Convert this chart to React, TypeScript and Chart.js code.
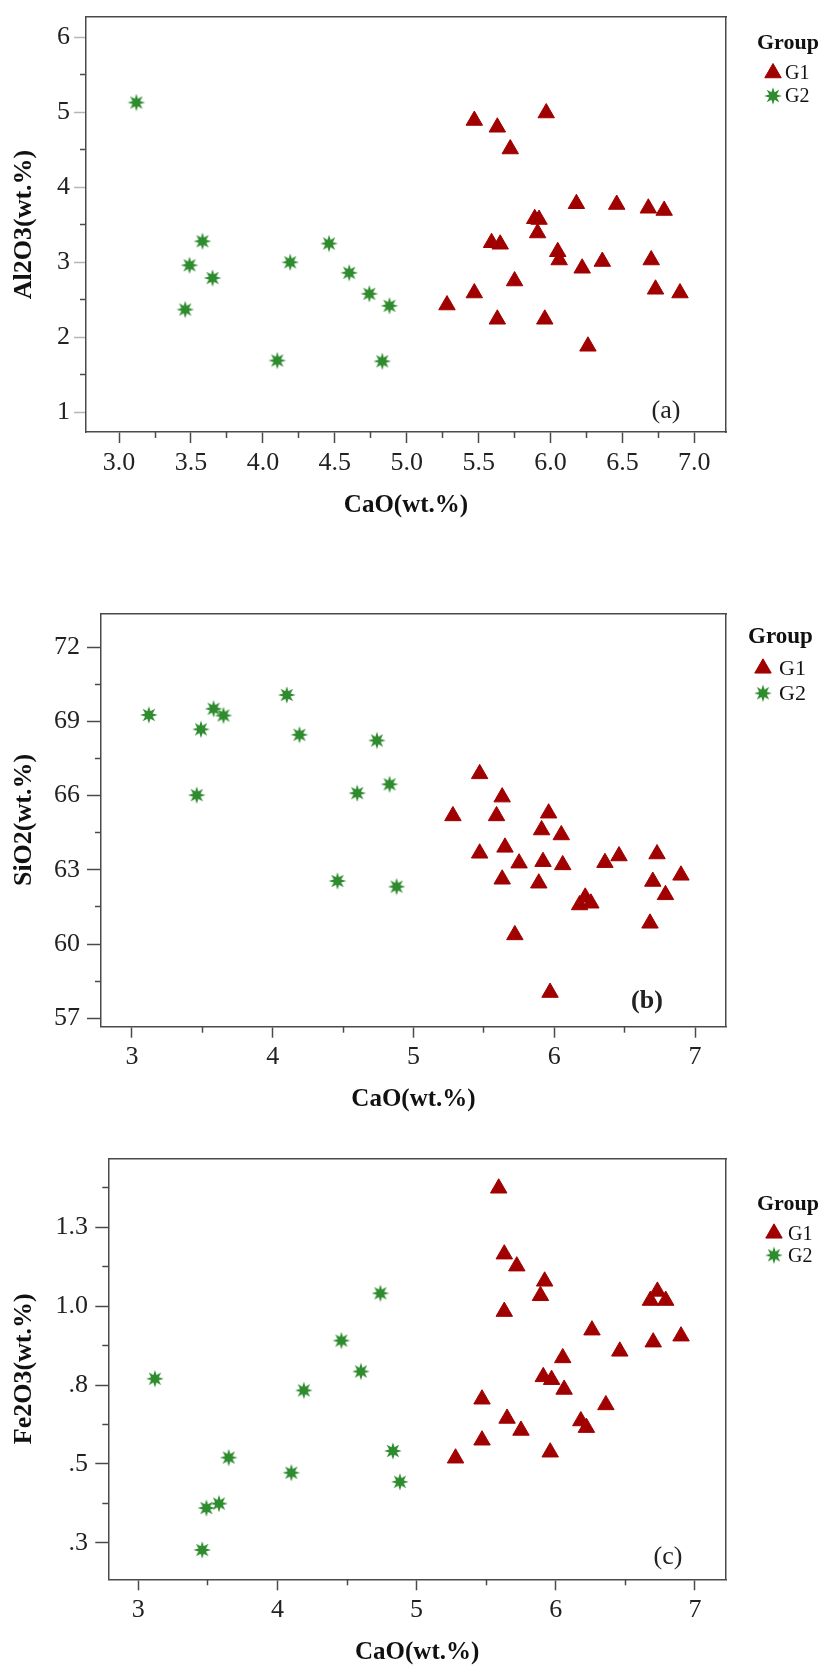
import React, { useEffect, useRef } from 'react';
import { Chart, registerables } from 'chart.js';
import { drawPoint } from 'chart.js/helpers';

Chart.register(...registerables);

// CaO is shared by the three panels (same samples)
const g1CaO = [5.28, 5.47, 5.47, 5.59, 5.63, 5.63, 5.65, 5.72, 5.75, 5.89, 5.91, 5.92, 5.96, 5.97, 6.05, 6.06, 6.18, 6.22, 6.26, 6.36, 6.46, 6.68, 6.7, 6.73, 6.79, 6.9];
const g1Al2O3 = [2.43, 4.89, 2.59, 3.26, 4.8, 2.24, 3.24, 4.51, 2.75, 3.58, 3.39, 3.57, 2.24, 4.99, 3.14, 3.03, 3.78, 2.92, 1.88, 3.01, 3.77, 3.72, 3.03, 2.64, 3.69, 2.59];
const g1SiO2 = [65.18, 66.88, 63.67, 65.18, 65.94, 62.62, 63.91, 60.37, 63.27, 62.46, 64.61, 63.33, 65.29, 58.04, 64.41, 63.2, 61.58, 61.89, 61.65, 63.29, 63.56, 60.84, 62.53, 63.64, 61.99, 62.78];
const g1Fe2O3 = [0.518, 0.705, 0.575, 1.374, 1.165, 0.983, 0.644, 1.127, 0.606, 1.033, 0.776, 1.079, 0.537, 0.767, 0.836, 0.736, 0.636, 0.615, 0.924, 0.687, 0.857, 1.018, 0.886, 1.047, 1.018, 0.905];

const g2CaO = [3.12, 3.46, 3.49, 3.58, 3.65, 4.1, 4.19, 4.46, 4.6, 4.74, 4.83, 4.88];
const g2Al2O3 = [5.13, 2.37, 2.96, 3.28, 2.79, 1.69, 3.0, 3.25, 2.86, 2.58, 1.68, 2.42];
const g2SiO2 = [69.26, 66.02, 68.68, 69.51, 69.24, 70.07, 68.46, 62.55, 66.1, 68.23, 66.46, 62.32];
const g2Fe2O3 = [0.77, 0.227, 0.36, 0.374, 0.52, 0.472, 0.733, 0.891, 0.793, 1.041, 0.541, 0.443];

const groupNames = ['G1', 'G2'];

const aXTicks = [3.0, 3.5, 4.0, 4.5, 5.0, 5.5, 6.0, 6.5, 7.0];
const aXTickLabels = ['3.0', '3.5', '4.0', '4.5', '5.0', '5.5', '6.0', '6.5', '7.0'];
const aYTicks = [1, 2, 3, 4, 5, 6];
const aYTickLabels = ['1', '2', '3', '4', '5', '6'];

const bXTicks = [3, 4, 5, 6, 7];
const bXTickLabels = ['3', '4', '5', '6', '7'];
const bYTicks = [57, 60, 63, 66, 69, 72];
const bYTickLabels = ['57', '60', '63', '66', '69', '72'];

const cXTicks = [3, 4, 5, 6, 7];
const cXTickLabels = ['3', '4', '5', '6', '7'];
const cYTicks = [0.25, 0.5, 0.75, 1.0, 1.25];
const cYTickLabels = ['.3', '.5', '.8', '1.0', '1.3'];

const RED = '#a00000';
const GREEN = '#2e8b2e';
const AXIS = '#4a4a4a';
const TEXT = '#222';
const FONT = "'Liberation Serif', 'Times New Roman', serif";

Chart.defaults.font.family = FONT;
Chart.defaults.color = TEXT;

let starImage: HTMLCanvasElement | null = null;
function getStar() {
  if (starImage) return starImage;
  const c = document.createElement('canvas');
  c.width = 20;
  c.height = 20;
  const ctx = c.getContext('2d')!;
  ctx.fillStyle = GREEN;
  ctx.beginPath();
  for (let k = 0; k < 16; k++) {
    const r = k % 2 === 0 ? 8.8 : 4.1;
    const a = -Math.PI / 2 + (k * Math.PI) / 8;
    const px = 10 + Math.cos(a) * r;
    const py = 10 + Math.sin(a) * r;
    if (k === 0) ctx.moveTo(px, py);
    else ctx.lineTo(px, py);
  }
  ctx.closePath();
  ctx.fill();
  starImage = c;
  return c;
}

function minorValues(min: number, max: number, step: number, majors: number[]) {
  const out: number[] = [];
  for (let k = Math.ceil(min / step - 1e-9); k * step <= max + 1e-9; k++) {
    const v = +(k * step).toFixed(6);
    if (!majors.some((m) => Math.abs(m - v) < 1e-6)) out.push(v);
  }
  return out;
}

const setTicks = (values: number[]) => (scale: any) => {
  scale.ticks = values.map((value) => ({ value }));
};

interface PanelSpec {
  top: number;
  height: number;
  g1Y: number[];
  g2Y: number[];
  yTitle: string;
  xMin: number;
  xMax: number;
  yMin: number;
  yMax: number;
  xTicks: number[];
  xTickLabels: string[];
  xMinorStep: number;
  yTicks: number[];
  yTickLabels: string[];
  yMinorStep: number;
  padTop: number;
  padBottom: number;
  yAxisWidth: number;
  xAxisHeight: number;
  yTickLen: number;
  yLabelPad: number;
  xLabelPad: number;
  xTitlePad: number;
  yMajorTickColor: string;
  tag: string;
  tagBold: boolean;
  tagDx: number;
  tagDy: number;
  legDx: number;
  legTitleDy: number;
  legRowDy: number[];
  legMarkerDx: number;
  legTextDx: number;
  legTitleSize: number;
  legTextSize: number;
}

const panelA: PanelSpec = {
  top: 0, height: 545, g1Y: g1Al2O3, g2Y: g2Al2O3, yTitle: 'Al2O3(wt.%)',
  xMin: 2.77, xMax: 7.22, yMin: 0.737, yMax: 6.27,
  xTicks: aXTicks, xTickLabels: aXTickLabels, xMinorStep: 0.25,
  yTicks: aYTicks, yTickLabels: aYTickLabels, yMinorStep: 0.5,
  padTop: 11, padBottom: 18, yAxisWidth: 86, xAxisHeight: 95,
  yTickLen: 12, yLabelPad: 4, xLabelPad: 7, xTitlePad: 6, yMajorTickColor: '#b5b5b5',
  tag: '(a)', tagBold: false, tagDx: 60, tagDy: 21,
  legDx: 31, legTitleDy: 26, legRowDy: [56, 79], legMarkerDx: 47, legTextDx: 59,
  legTitleSize: 22, legTextSize: 20,
};

const panelB: PanelSpec = {
  top: 545, height: 590, g1Y: g1SiO2, g2Y: g2SiO2, yTitle: 'SiO2(wt.%)',
  xMin: 2.78, xMax: 7.22, yMin: 56.66, yMax: 73.37,
  xTicks: bXTicks, xTickLabels: bXTickLabels, xMinorStep: 0.5,
  yTicks: bYTicks, yTickLabels: bYTickLabels, yMinorStep: 1.5,
  padTop: 68.3, padBottom: 13.3, yAxisWidth: 101, xAxisHeight: 95,
  yTickLen: 14, yLabelPad: 7, xLabelPad: 6, xTitlePad: 6.7, yMajorTickColor: AXIS,
  tag: '(b)', tagBold: true, tagDx: 79, tagDy: 25,
  legDx: 22, legTitleDy: 24, legRowDy: [55, 80], legMarkerDx: 37, legTextDx: 53,
  legTitleSize: 23, legTextSize: 22,
};

const panelC: PanelSpec = {
  top: 1135, height: 535, g1Y: g1Fe2O3, g2Y: g2Fe2O3, yTitle: 'Fe2O3(wt.%)',
  xMin: 2.785, xMax: 7.223, yMin: 0.134, yMax: 1.469,
  xTicks: cXTicks, xTickLabels: cXTickLabels, xMinorStep: 0.5,
  yTicks: cYTicks, yTickLabels: cYTickLabels, yMinorStep: 0.125,
  padTop: 23.3, padBottom: 0, yAxisWidth: 108.3, xAxisHeight: 90.7,
  yTickLen: 13, yLabelPad: 7.3, xLabelPad: 6.7, xTitlePad: 2, yMajorTickColor: AXIS,
  tag: '(c)', tagBold: false, tagDx: 58, tagDy: 22,
  legDx: 31, legTitleDy: 46, legRowDy: [75, 97], legMarkerDx: 48, legTextDx: 62,
  legTitleSize: 22, legTextSize: 20,
};

function decorPlugin(s: PanelSpec) {
  return {
    id: 'panelDecor',
    afterDraw(chart: any) {
      const { ctx, chartArea } = chart;
      ctx.save();
      ctx.fillStyle = TEXT;
      ctx.textAlign = 'center';
      ctx.textBaseline = 'middle';
      ctx.font = `${s.tagBold ? 'bold ' : ''}26px ${FONT}`;
      ctx.fillText(s.tag, chartArea.right - s.tagDx, chartArea.bottom - s.tagDy);

      const lx = chartArea.right + s.legDx;
      ctx.textAlign = 'left';
      ctx.fillStyle = '#111';
      ctx.font = `bold ${s.legTitleSize}px ${FONT}`;
      ctx.fillText('Group', lx, chartArea.top + s.legTitleDy);
      chart.data.datasets.forEach((ds: any, i: number) => {
        const y = chartArea.top + s.legRowDy[i];
        ctx.fillStyle = ds.backgroundColor;
        ctx.strokeStyle = ds.borderColor;
        ctx.lineWidth = ds.pointBorderWidth;
        drawPoint(ctx, { pointStyle: ds.pointStyle, radius: ds.pointRadius, borderWidth: ds.pointBorderWidth, rotation: 0 } as any, chartArea.right + s.legMarkerDx, y);
        ctx.fillStyle = '#111';
        ctx.font = `${s.legTextSize}px ${FONT}`;
        ctx.fillText(ds.label, chartArea.right + s.legTextDx, y + 1);
      });
      ctx.restore();
    },
  };
}

function buildConfig(s: PanelSpec): any {
  const tickFont = { size: 26, lineHeight: 1 };
  const xTitleFont = { size: 25, weight: 'bold', lineHeight: 1.2 };
  const yTitleFont = { size: 26, weight: 'bold', lineHeight: 1.2 };
  const xMinor = minorValues(s.xMin, s.xMax, s.xMinorStep, s.xTicks);
  const yMinor = minorValues(s.yMin, s.yMax, s.yMinorStep, s.yTicks);
  const frame = { display: true, color: AXIS, width: 1.5 };

  return {
    type: 'scatter',
    data: {
      datasets: [
        {
          label: groupNames[0],
          data: g1CaO.map((x, i) => ({ x, y: s.g1Y[i] })),
          pointStyle: 'triangle',
          pointRadius: 9.5,
          pointHoverRadius: 9.5,
          pointBorderWidth: 1,
          backgroundColor: RED,
          borderColor: RED,
        },
        {
          label: groupNames[1],
          data: g2CaO.map((x, i) => ({ x, y: s.g2Y[i] })),
          pointStyle: getStar(),
          pointRadius: 9,
          pointHoverRadius: 9,
          pointBorderWidth: 0,
          backgroundColor: GREEN,
          borderColor: GREEN,
        },
      ],
    },
    options: {
      responsive: false,
      animation: false,
      events: [],
      layout: { padding: { top: s.padTop, right: 98, bottom: s.padBottom, left: 0 } },
      plugins: { legend: { display: false }, tooltip: { enabled: false } },
      scales: {
        x: {
          type: 'linear', position: 'bottom', weight: 2, bounds: 'data',
          min: s.xMin, max: s.xMax,
          afterBuildTicks: setTicks(s.xTicks),
          afterFit: (sc: any) => { sc.height = s.xAxisHeight; },
          ticks: { autoSkip: false, maxRotation: 0, padding: s.xLabelPad, font: tickFont, color: TEXT, callback: (_v: number, i: number) => s.xTickLabels[i] },
          grid: { drawOnChartArea: false, tickLength: 11, tickWidth: 1.5, tickColor: AXIS },
          border: frame,
          title: { display: true, text: 'CaO(wt.%)', font: xTitleFont, color: '#111', padding: { top: 0, bottom: s.xTitlePad } },
        },
        xMinor: {
          type: 'linear', axis: 'x', position: 'bottom', weight: 1, bounds: 'data',
          min: s.xMin, max: s.xMax,
          afterBuildTicks: setTicks(xMinor),
          afterFit: (sc: any) => { sc.height = 0; },
          ticks: { autoSkip: false, maxRotation: 0, padding: 0, callback: () => '' },
          grid: { drawOnChartArea: false, tickLength: 6, tickWidth: 1.5, tickColor: AXIS },
          border: { display: false },
        },
        xTop: {
          type: 'linear', axis: 'x', position: 'top', bounds: 'data',
          min: s.xMin, max: s.xMax,
          afterFit: (sc: any) => { sc.height = 0; },
          ticks: { display: false },
          grid: { drawOnChartArea: false, drawTicks: false },
          border: frame,
        },
        y: {
          type: 'linear', position: 'left', weight: 2, bounds: 'data',
          min: s.yMin, max: s.yMax,
          afterBuildTicks: setTicks(s.yTicks),
          afterFit: (sc: any) => { sc.width = s.yAxisWidth; },
          ticks: { autoSkip: false, padding: s.yLabelPad, font: tickFont, color: TEXT, callback: (_v: number, i: number) => s.yTickLabels[i] },
          grid: { drawOnChartArea: false, tickLength: s.yTickLen, tickWidth: 1.5, tickColor: s.yMajorTickColor },
          border: frame,
          title: { display: true, text: s.yTitle, font: yTitleFont, color: '#111', padding: { top: 9, bottom: 0 } },
        },
        yMinor: {
          type: 'linear', axis: 'y', position: 'left', weight: 1, bounds: 'data',
          min: s.yMin, max: s.yMax,
          afterBuildTicks: setTicks(yMinor),
          afterFit: (sc: any) => { sc.width = 0; },
          ticks: { autoSkip: false, padding: 0, callback: () => '' },
          grid: { drawOnChartArea: false, tickLength: 6, tickWidth: 1.5, tickColor: AXIS },
          border: { display: false },
        },
        yRight: {
          type: 'linear', axis: 'y', position: 'right', bounds: 'data',
          min: s.yMin, max: s.yMax,
          afterFit: (sc: any) => { sc.width = 0; },
          ticks: { display: false },
          grid: { drawOnChartArea: false, drawTicks: false },
          border: frame,
        },
      },
    },
    plugins: [decorPlugin(s)],
  };
}

function ScatterPanel({ spec }: { spec: PanelSpec }) {
  const canvasRef = useRef<HTMLCanvasElement>(null);

  useEffect(() => {
    const canvas = canvasRef.current;
    if (!canvas) return;
    const chart = new Chart(canvas, buildConfig(spec));
    return () => {
      chart.destroy();
    };
  }, [spec]);

  return (
    <div style={{ position: 'absolute', left: 0, top: spec.top, width: 824, height: spec.height }}>
      <canvas ref={canvasRef} width={824} height={spec.height} style={{ display: 'block', width: 824, height: spec.height }} />
    </div>
  );
}

export default function App() {
  return (
    <div style={{ position: 'absolute', left: 0, top: 0, width: 824, height: 1670, background: '#fff' }}>
      <ScatterPanel spec={panelA} />
      <ScatterPanel spec={panelB} />
      <ScatterPanel spec={panelC} />
    </div>
  );
}
